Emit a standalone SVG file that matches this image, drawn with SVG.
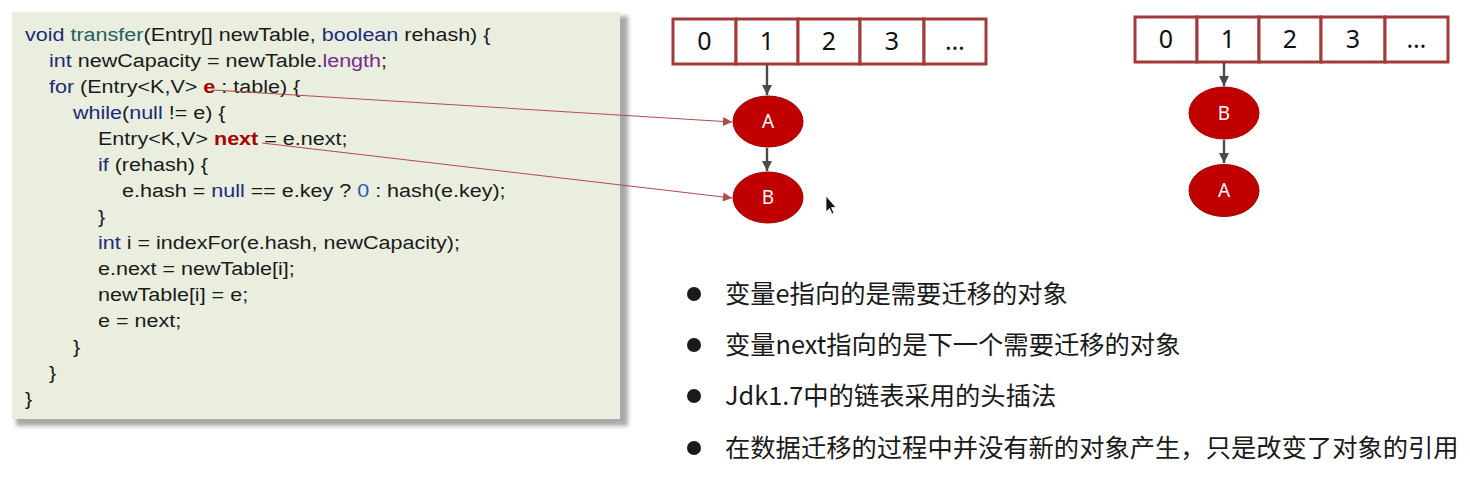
<svg xmlns="http://www.w3.org/2000/svg" width="1470" height="477" viewBox="0 0 1470 477">
<defs>
<style>
.code{font-family:"Liberation Sans",Arial,sans-serif;font-size:18.6px;fill:#1a1a1a}
.kw{fill:#1C2B78}
.fn{fill:#26605E}
.pu{fill:#7B2A8C}
.hl{fill:#A80000;font-weight:bold}
.num{fill:#1D5BB5}
.cell{fill:#fff;stroke:#A33A3A;stroke-width:3}
.cellt{font-family:"Noto Sans","Open Sans",sans-serif;font-size:25px;fill:#111;text-anchor:middle}
.node{fill:#C00000;stroke:#A00000;stroke-width:1}
.nodet{font-family:"Noto Sans","Open Sans",sans-serif;font-size:19px;fill:#fff;text-anchor:middle}
.garrow{stroke:#4A4A4A;stroke-width:2.4;fill:none}
.rarrow{stroke:#B34A4A;stroke-width:1.1;fill:none}
.bul{fill:#1a1a1a}
.bt{font-family:"Noto Sans CJK SC","Noto Sans",sans-serif;font-size:25.3px;fill:#1a1a1a}
</style>
<marker id="gh" viewBox="0 0 10 10" refX="10" refY="5" markerWidth="10" markerHeight="10" orient="auto" markerUnits="userSpaceOnUse">
<path d="M0,0 L10,5 L0,10 z" fill="#4A4A4A"/>
</marker>
<marker id="rh" viewBox="0 0 10 10" refX="10" refY="5" markerWidth="11" markerHeight="9" orient="auto" markerUnits="userSpaceOnUse">
<path d="M0,0 L10,5 L0,10 z" fill="#B34A4A"/>
</marker>
<filter id="sh" x="-5%" y="-5%" width="110%" height="110%">
<feGaussianBlur stdDeviation="2"/>
</filter>
</defs>
<rect width="1470" height="477" fill="#fff"/>

<g id="code">
<rect x="16" y="16" width="612" height="410" fill="#A8A8A8" filter="url(#sh)"/>
<rect x="12" y="12" width="608" height="407" fill="#E9EEDF"/>
<g transform="matrix(1.158,0,0,1,0,0)" class="code">
<text x="21.6" y="41"><tspan class="kw">void</tspan> <tspan class="fn">transfer</tspan>(Entry[] newTable, <tspan class="kw">boolean</tspan> rehash) {</text>
<text x="42.3" y="67"><tspan class="kw">int</tspan> newCapacity = newTable.<tspan class="pu">length</tspan>;</text>
<text x="42.3" y="93"><tspan class="kw">for</tspan> (Entry&lt;K,V&gt; <tspan class="hl">e</tspan> : table) {</text>
<text x="63" y="119"><tspan class="kw">while</tspan>(<tspan class="kw">null</tspan> != e) {</text>
<text x="84.6" y="145">Entry&lt;K,V&gt; <tspan class="hl">next</tspan> = e.next;</text>
<text x="84.6" y="171"><tspan class="kw">if</tspan> (rehash) {</text>
<text x="105.4" y="197">e.hash = <tspan class="kw">null</tspan> == e.key ? <tspan class="num">0</tspan> : hash(e.key);</text>
<text x="84.6" y="223">}</text>
<text x="84.6" y="249"><tspan class="kw">int</tspan> i = indexFor(e.hash, newCapacity);</text>
<text x="84.6" y="275">e.next = newTable[i];</text>
<text x="84.6" y="301">newTable[i] = e;</text>
<text x="84.6" y="327">e = next;</text>
<text x="63" y="353">}</text>
<text x="42.3" y="379">}</text>
<text x="21.6" y="405">}</text>
</g>
</g>

<g id="table-left">
<rect class="cell" x="673" y="19" width="63" height="45"/>
<rect class="cell" x="736" y="19" width="62" height="45"/>
<rect class="cell" x="798" y="19" width="62" height="45"/>
<rect class="cell" x="860" y="19" width="64" height="45"/>
<rect class="cell" x="924" y="19" width="62" height="45"/>
<text class="cellt" x="704.5" y="50">0</text>
<text class="cellt" x="767" y="50">1</text>
<text class="cellt" x="829" y="50">2</text>
<text class="cellt" x="892" y="50">3</text>
<text class="cellt" x="955" y="50">…</text>
</g>
<g id="node-left-A">
<ellipse class="node" cx="768" cy="121.5" rx="35" ry="25.5"/>
<text class="nodet" x="768" y="128">A</text>
</g>
<g id="node-left-B">
<ellipse class="node" cx="768" cy="197.5" rx="35" ry="25.5"/>
<text class="nodet" x="768" y="204">B</text>
</g>

<g id="table-right">
<rect class="cell" x="1135" y="17" width="62" height="45"/>
<rect class="cell" x="1197" y="17" width="62" height="45"/>
<rect class="cell" x="1259" y="17" width="62" height="45"/>
<rect class="cell" x="1321" y="17" width="64" height="45"/>
<rect class="cell" x="1385" y="17" width="63" height="45"/>
<text class="cellt" x="1166" y="48">0</text>
<text class="cellt" x="1228" y="48">1</text>
<text class="cellt" x="1290" y="48">2</text>
<text class="cellt" x="1353" y="48">3</text>
<text class="cellt" x="1416.5" y="48">…</text>
</g>
<g id="node-right-B">
<ellipse class="node" cx="1224" cy="113" rx="35" ry="26"/>
<text class="nodet" x="1224" y="119.5">B</text>
</g>
<g id="node-right-A">
<ellipse class="node" cx="1224" cy="190.5" rx="35" ry="26"/>
<text class="nodet" x="1224" y="197">A</text>
</g>

<g id="connectors">
<line class="garrow" x1="767" y1="65" x2="767" y2="95" marker-end="url(#gh)"/>
<line class="garrow" x1="767" y1="148" x2="767" y2="171" marker-end="url(#gh)"/>
<line class="garrow" x1="1224" y1="63" x2="1224" y2="86" marker-end="url(#gh)"/>
<line class="garrow" x1="1224" y1="140" x2="1224" y2="163" marker-end="url(#gh)"/>
<line class="rarrow" x1="213" y1="90" x2="732" y2="122" marker-end="url(#rh)"/>
<line class="rarrow" x1="262" y1="143" x2="732" y2="198" marker-end="url(#rh)"/>
</g>

<g id="cursor">
<path d="M826,196 L826,212 L829.5,208.5 L832,214 L834,213 L831.5,207.5 L836,207.5 z" fill="#111" stroke="#fff" stroke-width="0.8"/>
</g>

<g id="bullets">
<circle class="bul" cx="694" cy="294" r="7"/>
<circle class="bul" cx="694" cy="345" r="7"/>
<circle class="bul" cx="694" cy="396" r="7"/>
<circle class="bul" cx="694" cy="448" r="7"/>
<text class="bt" x="725" y="303">变量e指向的是需要迁移的对象</text>
<text class="bt" x="725" y="354">变量next指向的是下一个需要迁移的对象</text>
<text class="bt" x="725" y="405">Jdk1.7中的链表采用的头插法</text>
<text class="bt" x="725" y="457">在数据迁移的过程中并没有新的对象产生，只是改变了对象的引用</text>
</g>
</svg>
